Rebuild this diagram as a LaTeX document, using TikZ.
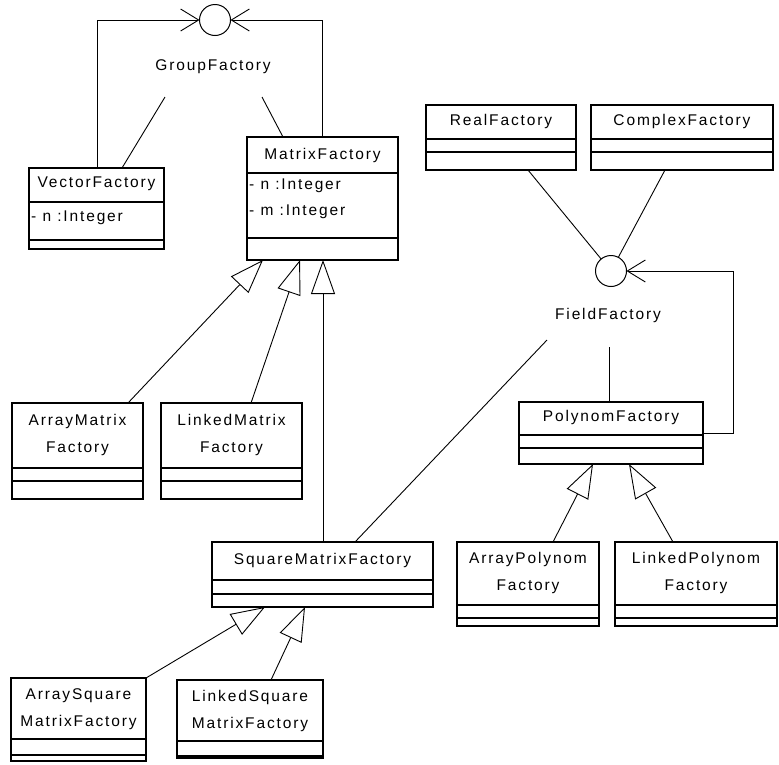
\documentclass[tikz,border=0pt]{standalone}
\usepackage{fontspec}
\newfontfamily\umlfont[LetterSpace=12]{Liberation Sans}
\usetikzlibrary{arrows.meta,calc}
\begin{document}
\begin{tikzpicture}[x=1pt,y=-1pt,
  cls/.style={draw,line width=1.1pt,inner sep=0pt,outer sep=0pt,anchor=north west},
  div/.style={line width=1.1pt},
  txt/.style={font=\umlfont\fontsize{15.5}{27}\selectfont,inner sep=0pt},
  ltxt/.style={txt,anchor=west},
  iface/.style={circle,draw,line width=1pt,minimum size=31pt,inner sep=0pt,outer sep=0pt},
  conn/.style={line width=0.9pt},
  real/.style={conn,-{Straight Barb[length=18pt,width=22pt,line width=0.9pt]}},
  inh/.style={conn,-{Triangle[open,length=34pt,width=24pt,line width=0.9pt]}}]
\useasboundingbox (0,0) rectangle (779,764);

% interface circles
\node[iface] (gf) at (215,20) {};
\node[iface] (ff) at (611,271) {};
\node[txt] (gft) at (213,67) {GroupFactory};
\node[txt] (fft) at (608,315) {FieldFactory};

% class boxes
\node[cls,minimum width=135pt,minimum height=81pt] (vf) at (29,168) {};
\draw[div] (29,202) -- (164,202) (29,240) -- (164,240);
\node[txt] (vft) at (96.5,184) {VectorFactory};
\node[ltxt] (vfa) at (31,218) {- n :Integer};

\node[cls,minimum width=151pt,minimum height=123pt] (mf) at (247,137) {};
\draw[div] (247,173) -- (398,173) (247,238) -- (398,238);
\node[txt] (mft) at (322.5,155) {MatrixFactory};
\node[ltxt] (mfa) at (249,186) {- n :Integer};
\node[ltxt] (mfb) at (249,212) {- m :Integer};

\node[cls,minimum width=131pt,minimum height=96pt] (amf) at (12,403) {};
\draw[div] (12,468) -- (143,468) (12,481) -- (143,481);
\node[txt,align=center] (amft) at (77.5,435) {ArrayMatrix\\Factory};

\node[cls,minimum width=141pt,minimum height=96pt] (lmf) at (161,403) {};
\draw[div] (161,468) -- (302,468) (161,481) -- (302,481);
\node[txt,align=center] (lmft) at (231.5,435) {LinkedMatrix\\Factory};

\node[cls,minimum width=150pt,minimum height=65pt] (rf) at (426,105) {};
\draw[div] (426,139) -- (576,139) (426,152) -- (576,152);
\node[txt] (rft) at (501,121) {RealFactory};

\node[cls,minimum width=182pt,minimum height=65pt] (cf) at (591,105) {};
\draw[div] (591,139) -- (773,139) (591,152) -- (773,152);
\node[txt] (cft) at (682,121) {ComplexFactory};

\node[cls,minimum width=184pt,minimum height=62pt] (pf) at (519,402) {};
\draw[div] (519,435) -- (703,435) (519,448) -- (703,448);
\node[txt] (pft) at (611,417) {PolynomFactory};

\node[cls,minimum width=142pt,minimum height=84pt] (apf) at (457,542) {};
\draw[div] (457,605) -- (599,605) (457,618) -- (599,618);
\node[txt,align=center] (apft) at (528,573) {ArrayPolynom\\Factory};

\node[cls,minimum width=162pt,minimum height=84pt] (lpf) at (615,542) {};
\draw[div] (615,605) -- (777,605) (615,618) -- (777,618);
\node[txt,align=center] (lpft) at (696,573) {LinkedPolynom\\Factory};

\node[cls,minimum width=221pt,minimum height=65pt] (smf) at (212,542) {};
\draw[div] (212,580) -- (433,580) (212,594) -- (433,594);
\node[txt] (smft) at (322.5,560) {SquareMatrixFactory};

\node[cls,minimum width=135pt,minimum height=83pt] (asmf) at (11,678) {};
\draw[div] (11,739) -- (146,739) (11,755) -- (146,755);
\node[txt,align=center] (asmft) at (78.5,709) {ArraySquare\\MatrixFactory};

\node[cls,minimum width=146pt,minimum height=78pt] (lsmf) at (177,680) {};
\draw[div] (177,741) -- (323,741) (177,756) -- (323,756);
\node[txt,align=center] (lsmft) at (250,711) {LinkedSquare\\MatrixFactory};

% realizations (to interface circles)
\draw[real] ($(vf.north west)+(68,0)$) |- (gf.west);
\draw[real] ($(mf.north west)+(75,0)$) |- (gf.east);
\draw[real] (pf.east) -- ++(30,0) |- (ff.east);

% interface usage lines
\coordinate (g1) at ($(gft)+(-48,30)$);
\coordinate (g2) at ($(gft)+(49,30)$);
\draw[conn] (g1) -- ($(vf.north west)+(93,0)$);
\draw[conn] (g2) -- ($(mf.north west)+(36,0)$);
\draw[conn] ($(rf.south west)+(102,0)$) -- (ff);
\draw[conn] ($(cf.south west)+(74,0)$) -- (ff);
\coordinate (f1) at ($(fft)+(1,32)$);
\coordinate (f2) at ($(fft)+(-61,25)$);
\draw[conn] (f1) -- ($(pf.north west)+(90,0)$);
\draw[conn] (f2) -- ($(smf.north west)+(143,0)$);

% generalizations
\draw[inh] ($(amf.north west)+(116,0)$) -- ($(mf.south west)+(16,0)$);
\draw[inh] ($(lmf.north west)+(90,0)$) -- ($(mf.south west)+(53,0)$);
\draw[inh] ($(smf.north west)+(111,0)$) -- ($(mf.south west)+(76,0)$);
\draw[inh] ($(apf.north west)+(96,0)$) -- ($(pf.south west)+(74,0)$);
\draw[inh] ($(lpf.north west)+(58,0)$) -- ($(pf.south west)+(110,0)$);
\draw[inh] (asmf.north east) -- ($(smf.south west)+(53,0)$);
\draw[inh] ($(lsmf.north west)+(94,0)$) -- ($(smf.south west)+(93,0)$);
\end{tikzpicture}
\end{document}
